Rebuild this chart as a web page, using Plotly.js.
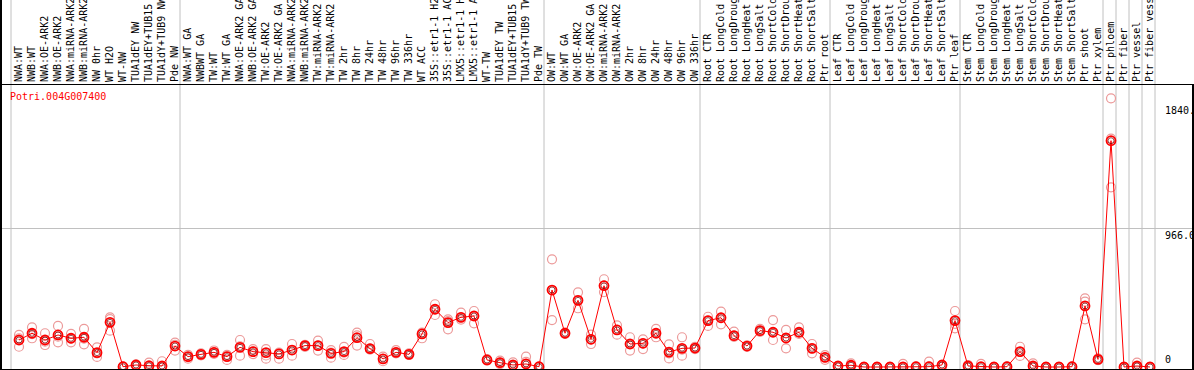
<!DOCTYPE html>
<html>
<head>
<meta charset="utf-8">
<script src="https://cdn.plot.ly/plotly-3.0.1.min.js"></script>
<style>html,body{margin:0;padding:0;background:#fff;}#chart{width:1194px;height:370px;}</style>
</head>
<body>
<div id="chart"></div>
<script>
const geneName = "Potri.004G007400";

const categories = [
  "NWA:WT","NWB:WT","NWA:OE-ARK2","NWB:OE-ARK2","NWA:miRNA-ARK2","NWB:miRNA-ARK2","NW 0hr","WT H2O","WT-NW","TUA1dEY NW","TUA1dEY+TUB15 NW","TUA1dY+TUB9 NW","Pde NW",
  "NWA:WT GA","NWBWT GA","TW:WT","TW:WT GA","NWA:OE-ARK2 GA","NWB:OE-ARK2 GA","TW:OE-ARK2","TW:OE-ARK2 GA","NWA:miRNA-ARK2","NWB:miRNA-ARK2","TW:miRNA-ARK2","TW:miRNA-ARK2","TW 2hr","TW 8hr","TW 24hr","TW 48hr","TW 96hr","TW 336hr","WT ACC","35S::etr1-1 H2O","35S::etr1-1 ACC","LMX5::etr1-1 H2O","LMX5::etr1-1 ACC","WT-TW","TUA1dEY TW","TUA1dEY+TUB15 TW","TUA1dY+TUB9 TW","Pde TW",
  "OW:WT","OW:WT GA","OW:OE-ARK2","OW:OE-ARK2 GA","OW:miRNA-ARK2","OW:miRNA-ARK2","OW 2hr","OW 8hr","OW 24hr","OW 48hr","OW 96hr","OW 336hr",
  "Root CTR","Root LongCold","Root LongDrought","Root LongHeat","Root LongSalt","Root ShortCold","Root ShortDrought","Root ShortHeat","Root ShortSalt","Ptr root",
  "Leaf CTR","Leaf LongCold","Leaf LongDrought","Leaf LongHeat","Leaf LongSalt","Leaf ShortCold","Leaf ShortDrought","Leaf ShortHeat","Leaf ShortSalt","Ptr leaf",
  "Stem CTR","Stem LongCold","Stem LongDrought","Stem LongHeat","Stem LongSalt","Stem ShortCold","Stem ShortDrought","Stem ShortHeat","Stem ShortSalt","Ptr shoot","Ptr xylem",
  "Ptr phloem","Ptr fiber","Ptr vessel","Ptr fiber vessel"
];

const meanValues = [
  188,235,188,223,200,207,100,311,2,14,9,7,146,
  72,88,102,72,137,107,100,91,118,149,149,95,107,204,128,56,102,88,230,402,309,346,355,49,30,14,21,2,
  536,235,464,193,566,258,160,165,235,104,130,132,
  323,343,218,146,253,242,202,242,130,67,
  7,12,0,0,0,0,2,2,14,323,
  7,2,0,2,107,7,0,0,2,425,53,
  1576,0,7,0
];

const rep1 = [
  223,276,235,286,230,265,137,346,0,14,30,40,169,
  84,95,115,84,188,125,125,100,160,155,183,118,140,239,160,72,118,95,239,437,332,378,390,55,44,32,72,2,
  750,240,520,225,611,290,207,193,265,158,207,125,
  350,385,246,146,265,327,258,276,160,83,
  7,25,0,0,0,21,0,37,14,390,
  14,21,0,0,141,25,0,0,5,478,60,
  1871,0,30,0
];
const rep2 = [
  141,200,153,172,172,158,95,253,3,18,0,0,114,
  58,80,92,49,79,90,80,58,79,140,114,65,84,149,120,40,95,85,200,362,262,330,304,45,20,10,35,0,
  327,230,409,160,522,225,114,125,207,60,79,140,
  286,297,218,140,253,188,130,230,95,50,
  0,10,0,0,0,0,5,5,5,269,
  5,0,0,5,77,0,0,0,0,455,50,
  1590,0,0,0
];
const rep3 = [
  200,229,176,211,198,198,70,334,3,10,0,0,155,
  72,88,102,80,144,107,58,91,118,149,149,100,100,220,128,56,102,88,230,402,320,346,355,49,30,14,21,0,
  536,235,464,193,566,258,160,165,235,95,120,132,
  323,343,210,150,245,242,202,242,130,67,
  5,5,0,0,0,0,0,0,0,300,
  3,0,0,0,105,0,0,0,0,332,48,
  1251,0,0,0
];

// indices after which a vertical divider is drawn (-1 = left edge)
const groupEnds = [-1, 12, 40, 52, 62, 72, 83, 84, 85, 86, 87];

const yTickVals = [0, 966, 1840];
const yTickText = ["0", "966.0", "1840."];

const xIdx = categories.map((_, i) => i);
const mono = "DejaVu Sans Mono, monospace";
const pink = "#ec9a9a";

const repTrace = (vals) => ({
  x: xIdx, y: vals, type: "scatter", mode: "markers", cliponaxis: false,
  marker: {symbol: "circle-open", size: 9, color: pink, line: {width: 1.2, color: pink}},
  hoverinfo: "skip"
});

const traces = [
  repTrace(rep1), repTrace(rep2), repTrace(rep3),
  {x: xIdx, y: meanValues, type: "scatter", mode: "lines", cliponaxis: false,
   line: {color: "#ff0000", width: 1}},
  {x: xIdx, y: meanValues, type: "scatter", mode: "markers", cliponaxis: false,
   marker: {symbol: "circle-open", size: 9, color: "#ff0000", line: {width: 1.8, color: "#ff0000"}}},
  {x: xIdx, y: meanValues, type: "scatter", mode: "markers", cliponaxis: false,
   marker: {symbol: "circle-open", size: 6, color: "#700000", line: {width: 0.7, color: "#700000"}}}
];

const shapes = groupEnds.map(g => ({
  type: "line", xref: "x", yref: "paper", x0: g + 0.385, x1: g + 0.385, y0: 0, y1: 1.4,
  line: {color: "#c0c0c0", width: 1}, layer: "below"
}));
shapes.push({type: "line", xref: "paper", yref: "paper", x0: 0, x1: 0, y0: 0, y1: 1.4,
  line: {color: "#000", width: 2}});

const annotations = [
  {xref: "paper", yref: "paper", x: 0, y: 1, xanchor: "left", yanchor: "top", xshift: 7, yshift: -4,
   text: geneName, showarrow: false, font: {family: mono, size: 10, color: "#ff0000"}}
];
yTickVals.forEach((v, i) => annotations.push({
  xref: "x", yref: "y", x: categories.length, y: v, xanchor: "left", yanchor: v === 0 ? "bottom" : "top",
  text: yTickText[i], showarrow: false, font: {family: mono, size: 10, color: "#000"}
}));

const layout = {
  width: 1194, height: 370,
  margin: {l: 1, r: 2, t: 85, b: 1, pad: 0},
  paper_bgcolor: "#fff", plot_bgcolor: "#fff",
  showlegend: false,
  xaxis: {
    range: [-1.385, 90.23], side: "top", tickmode: "array", tickvals: xIdx, ticktext: categories,
    tickangle: -90, tickfont: {family: mono, size: 10, color: "#000"}, ticks: "",
    showgrid: false, zeroline: false, showline: true, mirror: true, linecolor: "#000", linewidth: 1,
    automargin: false, fixedrange: true
  },
  yaxis: {
    range: [-14, 1964], tickmode: "array", tickvals: [966], showticklabels: false,
    showgrid: true, gridcolor: "#c0c0c0", gridwidth: 1, zeroline: false,
    showline: true, mirror: true, linecolor: "#000", linewidth: 2, automargin: false, fixedrange: true
  },
  shapes: shapes,
  annotations: annotations
};

Plotly.newPlot("chart", traces, layout, {displayModeBar: false, staticPlot: true});
</script>
</body>
</html>
